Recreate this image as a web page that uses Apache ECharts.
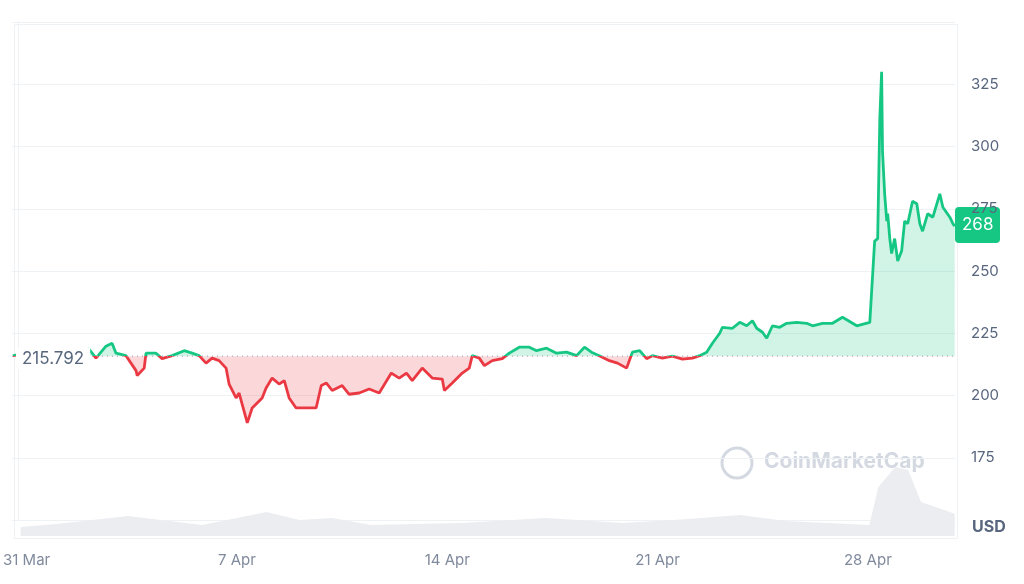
<!DOCTYPE html>
<html><head><meta charset="utf-8">
<script src="https://cdn.jsdelivr.net/npm/echarts@6/dist/echarts.min.js"></script>
<style>html,body{margin:0;background:#fff}#c{width:1024px;height:584px}</style>
</head><body><div id="c"></div>
<script>
const baseline = 215.792;
const lastPrice = 268;
// day offsets from 31 Mar 00:00
const days = [-0.17,0.36,1.02,1.68,2.34,2.57,2.90,3.10,3.23,3.56,3.89,3.93,4.16,4.22,4.55,4.75,5.08,5.48,5.74,5.97,6.20,6.40,6.63,6.86,6.96,7.19,7.29,7.56,7.72,8.05,8.18,8.38,8.61,8.78,8.94,9.17,9.50,9.83,10.00,10.17,10.36,10.69,10.92,11.25,11.58,11.91,12.31,12.57,12.81,13.00,13.33,13.66,13.99,14.06,14.32,14.65,14.88,14.98,15.21,15.38,15.64,15.97,16.20,16.53,16.86,17.10,17.43,17.76,18.09,18.42,18.68,18.91,19.17,19.50,19.77,20.07,20.26,20.50,20.73,20.92,21.25,21.58,21.91,22.24,22.48,22.71,22.90,23.14,23.23,23.56,23.80,24.03,24.22,24.36,24.55,24.69,24.88,25.12,25.35,25.68,26.01,26.20,26.53,26.86,27.19,27.66,28.09,28.15,28.25,28.35,28.42,28.48,28.51,28.58,28.65,28.68,28.75,28.81,28.91,29.01,29.14,29.24,29.34,29.50,29.64,29.74,29.83,30.00,30.17,30.40,30.50,30.73,30.83,30.89];
const prices = [216,217,218,217.5,218.6,215,219.8,221,217,216,210,208,211,217,217,214.8,216,218,217,216,213,215,214,211,204.6,199,201,189,195,199,203,207,204.6,206,199,195,195,195,204,205,202,204,200.5,201,202.6,201,209,207,209,206,211,207,206.6,202,205,209,211,216,215,212,214,214.8,217,219.4,219.4,218,219,217,217.4,216,219.4,217.4,216,214,213,211,217.4,218,214.8,216,215,215.8,214.6,215,216,217.4,221,225,227.4,227,229.4,228,230,227,225.4,223,228,227.4,229,229.4,229,228,229,229,231.4,228,229.4,230,262,263,311,330,298,281,270,273,263,257,263,254,258,270,269,278,277,269,266,273,271.6,281,275.6,271.6,269,268];
const volDays = [-0.2,1.0,3.37,5.84,7.99,9.08,10.17,11.46,14.47,17.28,19.85,22.03,23.74,25.26,28.05,28.35,28.91,29.34,29.77,30.73,30.89];
const volume = [9,12,20,11,24,16,18,11,13,18,13,17,21,15,11,49,69,66,34,24,22];
const yTicks = [175,200,225,250,275,300,325];
const xTickDays = [0,7,14,21,28];
const xTickLabels = ['31 Mar','7 Apr','14 Apr','21 Apr','28 Apr'];
const xMin = -0.2, xMax = 30.9;

const priceData = days.map((d,i)=>[d,prices[i]]);
const volData = volDays.map((d,i)=>[d,volume[i]]);
const ch = echarts.init(document.getElementById('c'));
const gridLine = {show:true,lineStyle:{color:'#eff2f5',width:1}};
ch.setOption({
  animation:false,
  grid:[{left:12,right:69,top:22,bottom:64},{left:12,right:69,top:456,bottom:48}],
  xAxis:[
    {type:'value',gridIndex:0,min:xMin,max:xMax,axisLine:{show:false},axisTick:{show:false},axisLabel:{show:false},splitLine:{show:false}},
    {type:'value',gridIndex:1,min:xMin,max:xMax,axisLine:{show:false},axisTick:{show:false},splitLine:{show:false},
     axisLabel:{customValues:xTickDays,formatter:v=>xTickLabels[xTickDays.indexOf(Math.round(v))]||'',color:'#808a9d',fontSize:15,fontFamily:'Inter',margin:17,
       rich:{}}}
  ],
  yAxis:[
    {type:'value',gridIndex:0,position:'right',min:150,max:350,interval:25,axisLine:{show:true,lineStyle:{color:'#eff2f5'}},axisTick:{show:false},
     splitLine:gridLine,axisLabel:{color:'#58667e',fontSize:15,fontFamily:'Inter',margin:16,formatter:v=>yTicks.includes(v)?String(v):''}},
    {type:'value',gridIndex:1,min:0,max:80,show:false}
  ],
  visualMap:{show:false,type:'piecewise',seriesIndex:0,dimension:1,
    pieces:[{min:baseline,max:400,color:'#16c784'},{min:100,max:baseline,color:'#ea3943'}]},
  series:[
    {type:'line',xAxisIndex:0,yAxisIndex:0,data:priceData,symbol:'none',lineStyle:{width:2.8},
     areaStyle:{origin:baseline,opacity:0.2},z:3},
    {type:'line',xAxisIndex:0,yAxisIndex:0,data:[[xMin,baseline],[xMax,baseline]],symbol:'none',silent:true,
     lineStyle:{color:'#a6b0c3',type:[1,4],width:1.2},z:4},
    {type:'line',xAxisIndex:1,yAxisIndex:1,data:volData,symbol:'none',lineStyle:{width:0},areaStyle:{color:'#ebedf1',opacity:1},z:0}
  ],
  graphic:[
    {type:'rect',left:12,top:22,shape:{width:943,height:514},style:{fill:'none',stroke:'#eff2f5',lineWidth:1},z:-1},
    {type:'text',left:16,top:348,style:{text:String(baseline),fill:'#58667e',font:'17px Inter',backgroundColor:'#fff',padding:[2,6]},z:10},
    {type:'group',left:955,top:207,z:20,children:[
      {type:'rect',shape:{width:45,height:36,r:4},style:{fill:'#16c784'}},
      {type:'text',left:7,top:9,style:{text:String(lastPrice),fill:'#fff',font:'17px Inter'}}]},
    {type:'text',left:972,top:519,style:{text:'USD',fill:'#58667e',font:'bold 16px Inter'}},
    {type:'circle',shape:{cx:737,cy:463,r:15},style:{fill:'none',stroke:'#d4d9e1',lineWidth:3}},
    {type:'text',left:764,top:451,style:{text:'CoinMarketCap',fill:'#d4d9e1',font:'bold 21px Inter'}}
  ]
});
</script></body></html>
